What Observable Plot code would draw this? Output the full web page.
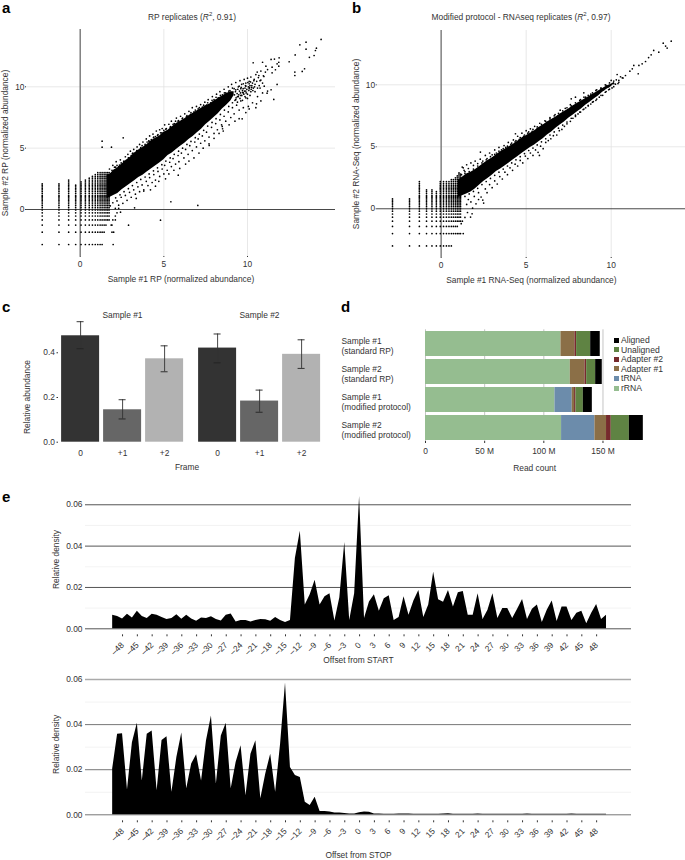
<!DOCTYPE html>
<html><head><meta charset="utf-8">
<script src="https://cdn.jsdelivr.net/npm/d3@7"></script>
<script src="https://cdn.jsdelivr.net/npm/@observablehq/plot@0.6"></script>
<style>
html,body{margin:0;padding:0;background:#fff}
#page{position:relative;width:685px;height:860px;overflow:hidden;font-family:"Liberation Sans",Arial,sans-serif;color:#333}
#page svg{position:absolute;overflow:visible}
.t{position:absolute;white-space:nowrap;font-size:8.4px;line-height:1;transform:translate(-50%,-50%)}
.p{position:absolute;font-weight:bold;font-size:15px;line-height:1;color:#000}
sup{font-size:6px;line-height:0}
</style></head><body><div id="page"></div>
<script>
const FONT = '"Liberation Sans",Arial,sans-serif';
// ---------- panel a ----------
const coreXA  = [1.6,1.8,2,2.25,2.5,2.75,3,3.25,3.5,3.75,4,4.25,4.5,4.75,5,5.25,5.5,5.75,6,6.25,6.5,6.75,7,7.25,7.5,7.75,8,8.25,8.5,8.75,9,9.2];
const coreLoA = [.9,1.0,1.15,1.3,1.6,1.85,2.1,2.35,2.6,2.8,3.05,3.3,3.55,3.8,4.05,4.4,4.6,4.9,5.15,5.4,5.7,5.95,6.25,6.55,6.9,7.2,7.5,7.8,8.2,8.5,8.85,9.3];
const coreHiA = [2.8,2.9,3.2,3.4,3.7,4.0,4.25,4.6,4.85,5.05,5.3,5.6,5.8,6.0,6.3,6.45,6.75,7.0,7.2,7.4,7.65,7.85,8.05,8.25,8.45,8.6,8.85,9.05,9.25,9.45,9.6,9.6];
const latXA = [-2.27,-1.27,-0.69,-0.27,0.05,0.31,0.54,0.73,0.9,1.05,1.19,1.31,1.43,1.54,1.64,1.73];
const latTopA = [2.2,2.2,2.4,2.0,2.3,2.5,2.6,2.7,2.85,3.0,3.05,3.1,3.1,3.15,3.15,3.2];
const latYA = [-2.85,-1.85,-1.27,-0.85,-0.53,-0.27,-0.04,0.15,0.32,0.47,0.61,0.73,0.85,0.96,1.06,1.15,1.32,1.47,1.61,1.73,1.85,1.98,2.1,2.25,2.4,2.55,2.7,2.85,3.0];
const latRowMaxA = [1.31,1.43,1.54,1.73,1.9,1.9];
const edgeA = [1.75,3.3,1.9,3.2,1.95,3.6,2.05,3.45,2.15,3.9,2.2,3.6,2.3,3.5,2.4,4.05,2.45,3.8,2.57,5.84,2.6,3.9,2.7,4.3,2.75,4.0,2.85,4.5,2.9,4.2,3,4.75,3.05,4.4,3.15,4.6,3.2,4.9,3.3,4.55,3.4,5.1,3.45,4.8,3.55,5.3,3.6,4.95,3.7,5.2,3.75,5.5,3.85,5.15,3.95,5.75,4,5.5,4.1,5.6,4.15,6.0,4.25,5.7,4.35,6.15,4.4,5.9,4.5,5.95,4.55,6.4,4.65,6.1,4.75,6.5,4.8,6.25,4.9,6.6,5,6.45,5.05,6.9,5.15,6.6,5.3,6.95,5.4,6.75,5.45,7.2,5.55,6.95,5.7,7.2,5.75,7.45,5.85,7.2,6,7.6,6.1,7.4,6.25,7.8,6.35,7.55,6.5,8.0,6.6,7.75,6.7,8.3,6.8,7.95,6.95,8.4,7.05,8.2,7.2,8.55,7.3,8.35,7.45,8.75,7.55,8.5,7.65,8.95,7.8,8.7,7.9,9.2,8,8.95,8.15,9.4,8.25,9.1,8.35,9.6,8.5,9.35,8.6,9.8,8.7,9.5,8.85,10,8.95,9.7,9.05,10.2,9.2,9.85,9.3,10.35,9.45,10,9.55,10.5,9.65,10.2,9.8,10.6,9.9,10.3,10,10.7,10.1,10.45,10.2,10.8,10.4,10.6,10.5,11.0,10.65,10.75,10.75,10.5,
1.8,.3,1.95,.55,2.1,.1,2.2,.7,2.3,.35,2.45,1,2.55,.5,2.7,1.15,2.8,.75,2.95,1.4,3.05,1,3.2,1.6,3.3,1.25,3.45,1.85,3.55,1.45,3.7,2,3.8,1.6,3.95,2.3,4.05,1.95,4.15,2.6,4.3,2.2,4.4,2.85,4.5,2.4,4.65,3.1,4.75,2.7,4.9,3.3,5,2.9,5.05,3.6,5.2,3.2,5.35,3.85,5.45,3.5,5.55,4.15,5.7,3.7,5.85,4.4,5.9,3.9,6.05,4.6,6.2,4.2,6.3,4.9,6.45,4.5,6.55,5.2,6.7,4.8,6.85,5.5,6.95,5.1,7.05,5.75,7.2,5.4,7.3,6,7.45,5.6,7.55,6.3,7.7,5.9,7.85,6.7,8,6.2,8.1,7,8.2,6.5,8.35,7.3,8.45,6.9,8.6,7.6,8.7,7.2,8.85,7.95,9,7.5,9.1,8.3,9.2,7.8,9.35,8.5,9.5,8.1,9.6,8.85,9.75,8.3,9.9,9.1,10.05,8.4,10.15,9.3,10.3,8.7,10.45,9.6,10.6,9.2,10.75,9.9,10.9,9.5];
const nearA = [2.12,3.45,2.35,3.62,2.62,3.95,2.88,4.2,3.12,4.55,3.38,4.8,3.62,5.05,3.88,5.3,4.12,5.55,4.38,5.85,4.62,6.05,4.88,6.25,5.12,6.55,5.38,6.7,5.62,7.0,5.88,7.25,6.12,7.45,6.38,7.65,6.62,7.9,6.88,8.1,7.12,8.3,7.38,8.5,7.62,8.7,7.88,8.9,8.12,9.15,8.38,9.3,8.62,9.5,8.88,9.65,9.1,9.9,9.3,9.75,9.5,10.05,9.6,9.85,9.75,10.25,9.9,10.05,10.1,10.25,
2.12,.95,2.38,1.2,2.62,1.45,2.88,1.7,3.12,1.95,3.38,2.2,3.62,2.45,3.88,2.65,4.12,2.9,4.38,3.15,4.62,3.4,4.88,3.65,5.12,3.95,5.38,4.2,5.62,4.5,5.88,4.75,6.12,5.0,6.38,5.3,6.62,5.55,6.88,5.85,7.12,6.15,7.38,6.45,7.62,6.8,7.88,7.1,8.12,7.4,8.38,7.75,8.62,8.1,8.88,8.4,9.1,8.7,9.3,8.95,9.45,9.2,9.6,9.3,9.75,9.5,9.9,9.65,10.1,9.85,10.25,9.95,
3.35,.9,3.8,1.5,4.2,1.6,4.5,1.9,4.7,2.3,5.1,2.5,5.3,2.9,5.6,3.2,5.95,3.35,6.3,3.7,6.5,3.95,6.8,4.2,7.1,4.6,7.35,5.0,7.7,5.35,8.0,5.8,8.3,6.2,8.55,6.4,8.9,6.9,9.25,7.2,9.5,7.4,9.9,7.9,10.1,8.2,10.5,8.3,
9.4,9.2,9.7,9.7,9.85,9.9,10,9.4,10.05,10,10.15,10.1,10.2,9.6,10.3,10.3,10.35,9.9,10.45,10.2,10.55,10.45,10.6,9.9,10.7,10.1,10.8,10.55,10.9,10.3,10.95,10.9,11,10.05];
const tipA = [9.22,9.35,9.28,9.6,9.32,9.1,9.38,9.45,9.42,9.8,9.48,9.35,9.52,9.65,9.58,9.5,9.62,9.95,9.66,9.3,9.7,9.55,9.74,9.85,9.78,9.4,9.82,9.65,9.88,10.1,9.92,9.5,9.96,9.8,10.02,10.35,10.08,9.7,10.12,9.95,10.18,10.4,10.22,9.8,10.26,10.1,10.32,9.7,10.38,10.5,10.42,10.0,9.25,8.9,9.4,8.75,9.55,9.05,9.7,8.9,9.85,9.2,10,9.05];
const outA = [14.4,13.86,13.5,13.64,13.13,13.42,13.5,13.07,14.12,13.15,14.06,12.96,13.7,12.4,13.98,12.55,12.85,12.6,12.49,12.04,11.89,12.36,11.61,12.26,11.41,12.23,11.87,12.0,11.77,11.87,11.87,11.68,11.47,11.6,11.67,11.39,12.83,11.2,12.83,10.92,13.27,11.25,13.41,11.47,10.34,11.96,10.9,12.0,11.1,11.68,11.2,11.4,10.8,11.28,11.07,11.2,11.47,11.14,10.98,10.84,10.68,10.92,10.58,11.2,11.77,10.19,11.41,9.76,11.2,9.65,11.57,8.97,11.17,9.48,10.54,8.61,10.8,8.85,9.68,7.39,8.51,6.58,8.49,6.77,7.71,5.22,7.03,.33,5.42,.63,4.8,-.87,2.89,-1.28,5.86,2.8,1.31,5.57,1.31,5.08,1.87,5.08,3.25,.14,2.41,-.22,1.97,-2.85,1.9,-1.85,2.0,-1.85,1.85,-1.27,1.9,-1.27,1.95,-.85,2.1,-.85,2.1,-.53,2.2,-.27,2.3,.1];
// ---------- panel b ----------
const coreXB  = [1,1.25,1.5,1.75,2,2.25,2.5,2.75,3,3.25,3.5,3.75,4,4.25,4.5,4.75,5,5.25,5.5,5.75,6,6.25,6.5,6.75,7,7.25,7.5,7.75,8,8.25,8.5,8.75,9,9.25,9.5,9.75,10,10.2];
const coreLoB = [.9,1.05,1.2,1.35,1.6,1.9,2.2,2.45,2.7,3.0,3.2,3.45,3.7,3.95,4.2,4.45,4.7,4.95,5.15,5.4,5.65,5.95,6.2,6.5,6.75,7.0,7.3,7.55,7.8,8.05,8.35,8.6,8.85,9.1,9.4,9.65,9.85,10.1];
const coreHiB = [2.3,2.55,2.8,2.95,3.15,3.4,3.65,3.9,4.1,4.35,4.6,4.8,5.0,5.2,5.45,5.7,5.9,6.1,6.3,6.55,6.75,7.0,7.2,7.4,7.65,7.85,8.05,8.3,8.5,8.7,8.9,9.1,9.3,9.5,9.7,9.9,10.05,10.2];
const latXB = [-2.86,-1.86,-1.28,-0.86,-0.54,-0.28,-0.05,0.14,0.31,0.46,0.6,0.72,0.84,0.95,1.05,1.14];
const latTopB = [.85,.85,2.2,1.55,1.6,1.5,2.2,2.2,2.25,2.3,2.35,2.45,2.6,2.7,2.8,2.9];
const latYB = [-3,-2,-1.42,-1,-.68,-.42,-.19,0,.17,.32,.46,.58,.70,.81,.91,1,1.09,1.25,1.39,1.52,1.64,1.76,1.9,2.05,2.2,2.35,2.5,2.65,2.8];
const latRowMaxB = [.6,1.14,.95,1.14];
const edgeB = [1.05,2.9,1.2,2.75,1.3,3.3,1.4,3.0,1.5,3.55,1.6,3.25,1.75,3.7,1.9,3.5,2,3.85,2.15,3.65,2.3,4.0,2.45,3.85,2.6,4.3,2.7,4.05,2.85,4.5,3,4.35,3.15,4.75,3.25,4.5,3.4,4.95,3.55,4.75,3.7,5.1,3.8,4.95,3.95,5.35,4.1,5.2,4.25,5.55,4.35,5.4,4.5,5.85,4.6,5.6,4.75,6.1,4.85,5.85,5,6.3,5.1,6.1,5.25,6.45,5.35,6.25,5.5,6.65,5.65,6.45,5.8,6.9,5.95,6.7,6.1,7.1,6.25,6.95,6.4,7.35,6.55,7.2,6.7,7.6,6.85,7.45,7,7.95,7.15,7.7,7.3,8.1,7.45,7.95,7.6,8.4,7.75,8.2,7.9,9.0,8.05,8.5,8.2,8.8,8.35,8.7,8.5,9.0,8.65,8.9,8.8,9.25,8.95,9.15,9.1,9.55,9.25,9.4,9.4,9.7,9.55,9.6,9.7,9.95,9.85,9.85,10,10.35,10.15,10.1,10.3,10.4,10.45,10.35,10.55,10.65,10.7,10.55,
1.5,.35,1.6,.75,1.75,.55,1.85,.05,1.95,1,2.05,.4,2.2,1.3,2.35,.95,2.45,.7,2.6,1.6,2.7,1.3,2.85,1.95,3,1.7,3.15,2.25,3.3,2.0,3.45,2.6,3.6,2.4,3.75,2.95,3.9,2.75,4.05,3.3,4.2,3.1,4.35,3.6,4.5,3.45,4.65,3.9,4.8,3.7,4.95,4.25,5.1,4.05,5.25,4.5,5.4,4.3,5.55,4.75,5.7,4.55,5.85,5.05,6,4.85,6.15,5.35,6.3,5.5,6.45,5.65,6.6,5.9,6.8,5.95,6.95,6.3,7.1,6.4,7.25,6.65,7.4,6.85,7.6,7.05,7.75,7.3,7.9,7.45,8.05,7.65,8.2,7.8,8.35,8,8.5,8.15,8.65,8.3,8.8,8.45,8.95,8.65,9.1,8.75,9.3,9,9.5,9.15,9.7,9.45,9.85,9.6,10.05,9.75,10.25,10.05,10.45,10.2];
const nearB = [1.4,2.85,1.65,3.0,1.9,3.2,2.15,3.45,2.4,3.7,2.65,3.95,2.9,4.2,3.15,4.4,3.4,4.65,3.65,4.85,3.9,5.05,4.15,5.3,4.4,5.5,4.65,5.75,4.9,5.95,5.15,6.2,5.4,6.4,5.65,6.6,5.9,6.8,6.15,7.05,6.4,7.25,6.65,7.5,6.9,7.7,7.15,7.9,7.4,8.15,7.65,8.3,7.9,8.55,8.15,8.75,8.4,9.0,8.65,9.15,8.9,9.35,9.15,9.6,9.4,9.75,9.65,10.0,9.9,10.15,10.15,10.3,
1.4,1.0,1.65,1.2,1.9,1.4,2.15,1.65,2.4,1.95,2.65,2.2,2.9,2.45,3.15,2.7,3.4,2.95,3.65,3.2,3.9,3.45,4.15,3.7,4.4,3.95,4.65,4.2,4.9,4.45,5.15,4.7,5.4,4.9,5.65,5.15,5.9,5.4,6.15,5.65,6.4,5.95,6.65,6.2,6.9,6.5,7.15,6.75,7.4,7.0,7.65,7.3,7.9,7.55,8.15,7.8,8.4,8.05,8.65,8.35,8.9,8.6,9.15,8.85,9.4,9.15,9.65,9.4,9.9,9.65,10.15,9.85,10.4,10.1];
const outB = [13.53,13.52,13.06,13.36,13.2,13.12,13.29,12.96,12.8,12.63,12.5,12.77,12.35,12.42,12.2,12.2,12.02,11.88,11.82,11.69,11.63,11.56,11.59,10.89,11.33,11.56,11.24,11.29,11.1,11.1,10.84,10.75,10.65,10.56,10.35,10.83,4.37,6.05,5.78,4.3,2.31,4.57,1.24,3.36,1.35,3.1,7.65,8.87,8.39,9.35,2.5,.46,2.2,.75,1.82,-.4,1.73,-.67,1.18,-1.2,1.3,-2,1.25,-1,1.4,-.7,1.55,-.3];
// ---------- panel c ----------
const samples = ["Sample #1","Sample #2"];
const frames = ["0","+1","+2"];
const frameShades = ["#333333","#666666","#b2b2b2"];
const abundance1 = [0.476,0.145,0.373];
const abundance2 = [0.421,0.184,0.393];
const errLo1 = [0.418,0.104,0.315];
const errHi1 = [0.539,0.190,0.431];
const errLo2 = [0.355,0.134,0.330];
const errHi2 = [0.484,0.233,0.458];
// ---------- panel d ----------
const libraries = ["Sample #1\n(standard RP)","Sample #2\n(standard RP)","Sample #1\n(modified protocol)","Sample #2\n(modified protocol)"];
const parts = ["rRNA","tRNA","Adapter #1","Adapter #2","Unaligned","Aligned"];
const partColors = ["#95bd90","#6c8cab","#8b6f47","#762a2d","#5f8343","#000000"];
const rRNA = [114.5,122.4,109.4,115];
const tRNA = [0,0,14.6,28.2];
const adapter1 = [11.8,12.4,2,9.8];
const adapter2 = [1.4,1.4,1.2,4];
const unaligned = [11.9,7.6,6.2,15.3];
const aligned = [8.1,5.6,7.6,11.8];
// ---------- panel e ----------
const offsets = [-50,-49,-48,-47,-46,-45,-44,-43,-42,-41,-40,-39,-38,-37,-36,-35,-34,-33,-32,-31,-30,-29,-28,-27,-26,-25,-24,-23,-22,-21,-20,-19,-18,-17,-16,-15,-14,-13,-12,-11,-10,-9,-8,-7,-6,-5,-4,-3,-2,-1,0,1,2,3,4,5,6,7,8,9,10,11,12,13,14,15,16,17,18,19,20,21,22,23,24,25,26,27,28,29,30,31,32,33,34,35,36,37,38,39,40,41,42,43,44,45,46,47,48,49,50];
const startDensity = [.0065,.0060,.0048,.0070,.0052,.0085,.0060,.0050,.0070,.0066,.0055,.0045,.0050,.0068,.0046,.0066,.0048,.0037,.0052,.0050,.0058,.0045,.0038,.0065,.0072,.0033,.0040,.0040,.0033,.0040,.0045,.0044,.0037,.0055,.0040,.0030,.0040,.0340,.0472,.0115,.0165,.0235,.0115,.0155,.0170,.0038,.0150,.0418,.0040,.0170,.0640,.0050,.0130,.0165,.0085,.0145,.0160,.0040,.0055,.0155,.0065,.0135,.0185,.0055,.0115,.0273,.0140,.0128,.0185,.0105,.0175,.0180,.0065,.0065,.0170,.0045,.0090,.0170,.0050,.0098,.0098,.0050,.0095,.0142,.0045,.0095,.0115,.0030,.0090,.0135,.0035,.0105,.0105,.0040,.0075,.0085,.0025,.0075,.0118,.0045,.0065];
const stopDensity = [.0203,.0357,.0360,.0110,.0320,.0406,.0150,.0357,.0372,.0107,.0330,.0346,.0100,.0254,.0363,.0115,.0225,.0266,.0150,.0328,.0438,.0137,.0350,.0406,.0115,.0232,.0306,.0085,.0269,.0328,.0071,.0181,.0269,.0100,.0313,.0585,.0210,.0174,.0166,.0056,.0041,.0078,.0015,.0015,.0012,.0008,.0008,.0006,.0003,.0003,.0009,.0012,.0011,.0003,.0003,.0002,.0002,.0002,.0003,.0004,.0003,.0002,.0002,.0002,.0002,.0002,.0002,.0003,.0005,.0002,.0002,.0002,.0002,.0002,.0003,.0002,.0002,.0002,.0002,.0002,.0002,.0002,.0002,.0002,.0003,.0002,.0002,.0002,.0002,.0002,.0002,.0002,.0002,.0003,.0002,.0002,.0002,.0002,.0002,.0002,.0002];
const frameTicks = [-48,-45,-42,-39,-36,-33,-30,-27,-24,-21,-18,-15,-12,-9,-6,-3,0,3,6,9,12,15,18,21,24,27,30,33,36,39,42,45,48];
const densityTicks = [0,.02,.04,.06];
const densityMinor = [.01,.03,.05];

const page = document.getElementById("page");
const base = {style:{fontFamily:FONT,fontSize:"8.4px",color:"#333",background:"transparent"}};
function put(svg,left,top){svg.style.left=left+"px";svg.style.top=top+"px";page.appendChild(svg);}
function html(cls,txt,x,y,rot){const d=document.createElement("div");d.className=cls;d.innerHTML=txt;d.style.left=x+"px";d.style.top=y+"px";if(rot)d.style.transform=`translate(-50%,-50%) rotate(${rot}deg)`;page.appendChild(d);}
const pairs = a => { const r=[]; for(let i=0;i<a.length;i+=2) r.push({x:a[i],y:a[i+1]}); return r; };
function lattice(xs,tops,ys,rowMax,dflt){const r=[];xs.forEach((x,i)=>ys.forEach((y,j)=>{if(y<=tops[i]&&x<=(rowMax[j]??dflt))r.push({x,y});}));return r;}

function scatter(opts){
  const core = opts.coreX.map((x,i)=>({x,lo:opts.coreLo[i],hi:opts.coreHi[i]}));
  const pts = [...lattice(opts.latX,opts.latTop,opts.latY,opts.latRowMax,opts.latDefault),...pairs(opts.edge),...pairs(opts.near),...pairs(opts.out)];
  return Plot.plot({...base,width:opts.width,height:290,marginLeft:opts.ml,marginRight:opts.mr,marginTop:opts.mt,marginBottom:opts.mb,
    x:{domain:opts.xd,label:null},y:{domain:opts.yd,label:null},
    marks:[
      Plot.ruleX([5,10],{stroke:"#e2e2e2",strokeWidth:.8}),
      Plot.ruleY([5,10],{stroke:"#e2e2e2",strokeWidth:.8}),
      Plot.ruleX([0],{stroke:"#777",strokeWidth:1.4}),
      Plot.ruleY([0],{stroke:"#333",strokeWidth:.9}),
      Plot.areaY(core,{x:"x",y1:"lo",y2:"hi",fill:"#000"}),
      Plot.dot(pts,{x:"x",y:"y",r:.85,fill:"#000"}),
      Plot.axisX({ticks:[0,5,10],tickSize:1,tickPadding:4,label:opts.xl,labelAnchor:"center",labelArrow:"none",labelOffset:25}),
      Plot.axisY({ticks:[0,5,10],tickSize:1,tickPadding:1,label:opts.yl,labelAnchor:"center",labelArrow:"none",labelOffset:opts.ylo})
    ]});
}
put(scatter({width:340,ml:26,mr:5,mt:29,mb:34,xd:[-3.21,15.26],yd:[-3.83,14.67],coreX:coreXA,coreLo:coreLoA,coreHi:coreHiA,latX:latXA,latTop:latTopA,latY:latYA,latRowMax:latRowMaxA,latDefault:1.9,edge:edgeA,near:[...nearA,...tipA],out:outA,xl:"Sample #1 RP (normalized abundance)",yl:"Sample #2 RP (normalized abundance)",ylo:24}),0,0);
put(scatter({width:345,ml:36.7,mr:0,mt:30,mb:33,xd:[-3.76,14.37],yd:[-3.93,14.38],coreX:coreXB,coreLo:coreLoB,coreHi:coreHiB,latX:latXB,latTop:latTopB,latY:latYB,latRowMax:latRowMaxB,latDefault:1.14,edge:edgeB,near:nearB,out:outB,xl:"Sample #1 RNA-Seq (normalized abundance)",yl:"Sample #2 RNA-Seq (normalized abundance)",ylo:24}),340,0);
html("t","RP replicates (<i>R</i><sup>2</sup>, 0.91)",192,17);
html("t","Modified protocol - RNAseq replicates (<i>R</i><sup>2</sup>, 0.97)",521,17);

// c
const frameRows = samples.flatMap((s,k)=>frames.map((f,i)=>({
  sample:s,frame:f,
  v:(k?abundance2:abundance1)[i],
  lo:(k?errLo2:errLo1)[i],
  hi:(k?errHi2:errHi1)[i]})));
put(Plot.plot({...base,width:340,height:190,marginLeft:56.9,marginRight:16.9,marginTop:21.5,marginBottom:43.3,
  fx:{domain:samples,paddingInner:.068,paddingOuter:0,label:null},
  x:{domain:frames,paddingInner:.105,paddingOuter:.0525,label:null},
  y:{domain:[0,.56],label:null},
  color:{domain:frames,range:frameShades},
  marks:[
    Plot.barY(frameRows,{fx:"sample",x:"frame",y:"v",fill:"frame"}),
    Plot.ruleX(frameRows,{fx:"sample",x:"frame",y1:"lo",y2:"hi",stroke:"#333",strokeWidth:.9}),
    Plot.tickY(frameRows,{fx:"sample",x:"frame",y:"lo",stroke:"#222",strokeWidth:.9,insetLeft:15.5,insetRight:15.5}),
    Plot.tickY(frameRows,{fx:"sample",x:"frame",y:"hi",stroke:"#222",strokeWidth:.9,insetLeft:15.5,insetRight:15.5}),
    Plot.axisFx({anchor:"top",tickSize:0,tickPadding:-1,label:null}),
    Plot.axisX({tickSize:0,tickPadding:8,label:null}),
    Plot.axisY({ticks:[0,.2,.4],tickFormat:".1f",tickSize:1.5,tickPadding:2,label:null})
  ]}),0,295);
html("t","Frame",187,466.7);
html("t","Relative abundance",27,396.7,-90);

// d
const partValues = [rRNA,tRNA,adapter1,adapter2,unaligned,aligned];
const libRows = libraries.flatMap((l,i)=>parts.map((p,j)=>({lib:l,part:p,value:partValues[j][i]})));
put(Plot.plot({...base,width:345,height:150,marginLeft:85,marginRight:41.7,marginTop:9.3,marginBottom:29,
  x:{domain:[0,184.5],label:null},
  y:{domain:libraries,paddingInner:.11,paddingOuter:0,label:null,axis:null},
  color:{domain:parts,range:partColors},
  marks:[
    Plot.ruleX([0,50,100,150],{stroke:"#bdbdbd",strokeWidth:.9}),
    Plot.barX(libRows,{y:"lib",x:"value",fill:"part"}),
    Plot.text(libraries,{y:d=>d,text:d=>d,frameAnchor:"left",textAnchor:"start",dx:-84,dy:2,lineHeight:1.22,fill:"#333"}),
    Plot.axisX({ticks:[0,50,100,150],tickFormat:d=>d?d+" M":"0",tickSize:2,tickPadding:5,label:"Read count",labelAnchor:"center",labelArrow:"none",labelOffset:29})
  ]}),340,320);
// legend, in the order of the reference
[...parts].reverse().forEach((p,i)=>{
  const yy=340+i*9.6;
  const s=document.createElement("div");
  s.style.cssText=`position:absolute;left:613.5px;top:${yy-2.5}px;width:5px;height:5px;background:${partColors[parts.indexOf(p)]}`;
  page.appendChild(s);
  const t=document.createElement("div");
  t.className="t";t.textContent=p;t.style.left="621px";t.style.top=yy+"px";t.style.transform="translate(0,-50%)";t.style.fontSize="8.6px";
  page.appendChild(t);
});

// e
const tf = d=>d<0?"\u2013"+(-d):""+d;
function density(series,opts){
  const rows = offsets.map((o,i)=>({o,v:series[i]}));
  return Plot.plot({...base,width:685,height:opts.h,marginLeft:85,marginRight:54,marginTop:opts.mt,marginBottom:opts.mb,
    x:{domain:[-55.5,55.06],label:null},y:{domain:[0,opts.top],label:null},
    marks:[
      Plot.ruleY(densityMinor,{stroke:"#f0f0f0",strokeWidth:.8}),
      Plot.ruleY(densityTicks.filter(d=>d<.06),{stroke:opts.grid,strokeWidth:1}),
      Plot.ruleY([.06],{stroke:opts.gridTop,strokeWidth:opts.topW}),
      Plot.areaY(rows,{x:"o",y:"v",fill:"#000"}),
      Plot.axisX({ticks:frameTicks,tickFormat:tf,tickRotate:-45,tickSize:2,tickPadding:7,dy:6,label:opts.xl,labelAnchor:"center",labelArrow:"none",labelOffset:opts.xlo}),
      Plot.axisY({ticks:densityTicks,tickFormat:".2f",tickSize:0,tickPadding:3,label:"Relative density",labelAnchor:"center",labelArrow:"none",labelOffset:32})
    ]});
}
put(density(startDensity,{h:190,mt:9.8,mb:41.7,top:.067,grid:"#555",gridTop:"#555",topW:1,xl:"Offset from START",xlo:34}),0,480);
put(density(stopDensity,{h:195,mt:8.4,mb:45.7,top:.0625,grid:"#777",gridTop:"#aaa",topW:1.5,xl:"Offset from STOP",xlo:43}),0,665);

// panel letters
[["a",2,0],["b",352,0],["c",2,299],["d",341,299],["e",2,489]].forEach(([l,x,y])=>{
  const d=document.createElement("div");d.className="p";d.textContent=l;d.style.left=x+"px";d.style.top=y+"px";page.appendChild(d);
});
</script></body></html>
